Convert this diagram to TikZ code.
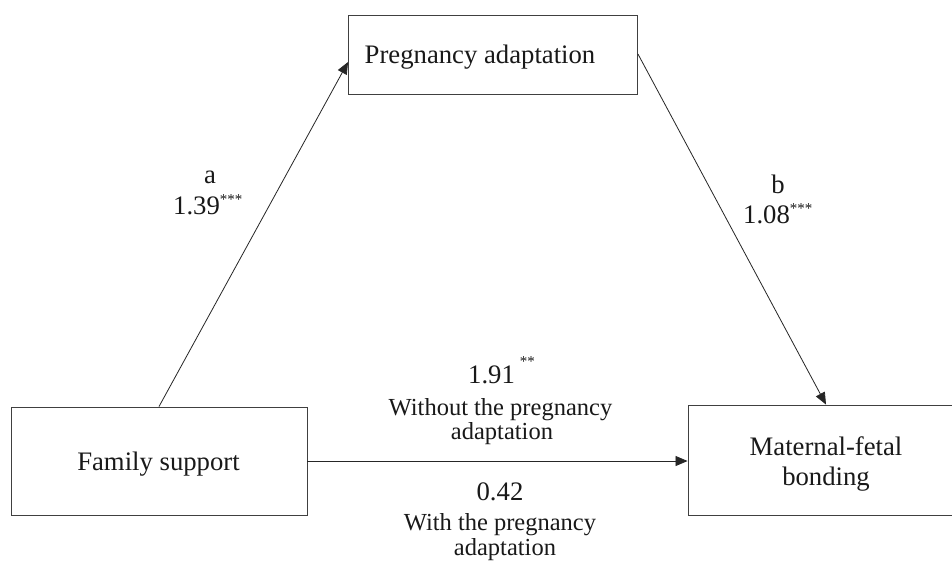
\documentclass[tikz,border=0pt]{standalone}
\usepackage{fontspec}
\setmainfont{Liberation Serif}
\usetikzlibrary{arrows.meta}
\tikzset{
  box/.style={draw=black!75, line width=0.9pt, fill=white, inner sep=0pt},
  big/.style={font=\fontsize{26.7}{30}\selectfont, inner sep=0pt, anchor=base, text=black!90},
  small/.style={font=\fontsize{24.5}{28}\selectfont, inner sep=0pt, anchor=base, text=black!90},
  conn/.style={draw=black!85, line width=0.8pt, -{Triangle[length=12pt,width=10pt]}}
}
\newcommand{\stars}[1]{\textsuperscript{\fontsize{15}{15}\selectfont #1}}
\begin{document}
\begin{tikzpicture}[x=1pt,y=-1pt]
\useasboundingbox[fill=white] (0,0) rectangle (952,560);
% boxes
\node[box, minimum width=289pt, minimum height=79pt] (pa) at (493,54.5) {};
\node[box, minimum width=296pt, minimum height=108pt] (fs) at (159,461) {};
\node[box, minimum width=276pt, minimum height=110pt] (mf) at (826,460) {};
% box texts
\node[big] (tpa) at (480,63) {Pregnancy adaptation};
\node[big] (tfs) at (158.5,470) {Family support};
\node[big] (tmf1) at (826,455) {Maternal-fetal};
\node[big] (tmf2) at (826,485) {bonding};
% connectors
\draw[conn] (fs.north) -- ([yshift=-7.5pt]pa.west);
\draw[conn] ([yshift=0.5pt]pa.east) -- (mf.north);
\draw[conn] (fs.east) -- (fs.east -| mf.west);
% path labels
\node[big] (la) at (210,183) {a};
\node[big, anchor=base west] (la2) at (173,214) {1.39\stars{***}};
\node[big] (lb) at (778,193) {b};
\node[big, anchor=base west] (lb2) at (743,223) {1.08\stars{***}};
\node[big, anchor=base west] (lc) at (468,383) {1.91\hspace{5pt}\raisebox{17pt}{\fontsize{15}{15}\selectfont **}};
\node[small] (lc2) at (500.5,415) {Without the pregnancy};
\node[small] (lc3) at (502,439) {adaptation};
\node[big] (ld) at (500,500) {0.42};
\node[small] (ld2) at (500,530) {With the pregnancy};
\node[small] (ld3) at (505,555) {adaptation};
\end{tikzpicture}
\end{document}
